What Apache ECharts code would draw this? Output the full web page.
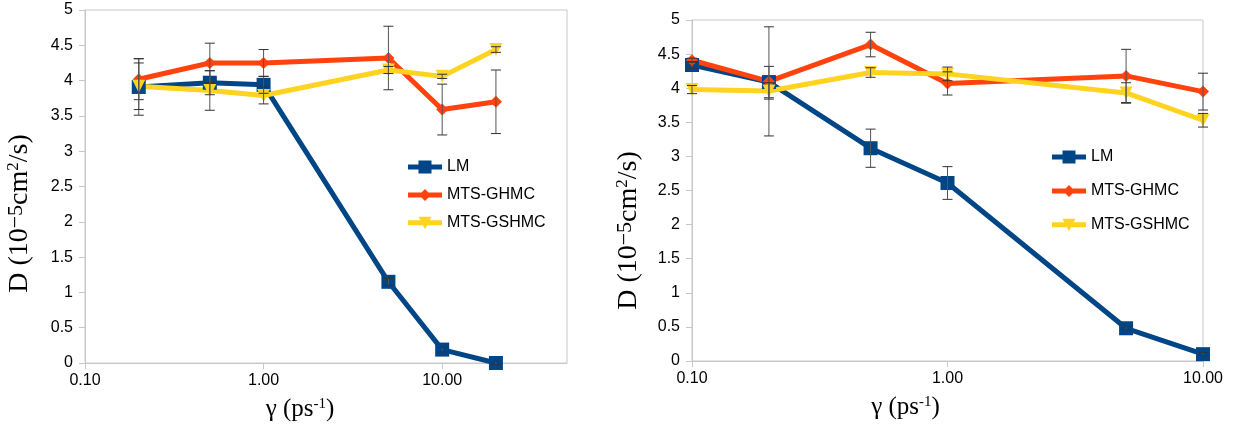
<!DOCTYPE html>
<html>
<head>
<meta charset="utf-8">
<script src="https://cdn.jsdelivr.net/npm/echarts@6/dist/echarts.min.js"></script>
<style>
html, body { margin: 0; padding: 0; background: #fff; }
#chart { width: 1234px; height: 430px; }
</style>
</head>
<body>
<div id="chart"></div>
<script>
// left panel
var leftGamma = [0.2, 0.5, 1, 5, 10, 20]
var leftLM = [3.91, 3.97, 3.94, 1.15, 0.19, 0.0]
var leftLMErr = [0.40, 0.17, 0.12, 0.05, 0.03, 0.02]
var leftGHMC = [4.02, 4.25, 4.25, 4.32, 3.59, 3.70]
var leftGHMCErr = [0.29, 0.28, 0.19, 0.45, 0.36, 0.45]
var leftGSHMC = [3.92, 3.86, 3.79, 4.15, 4.06, 4.44]
var leftGSHMCErr = [0.33, 0.28, 0.12, 0.05, 0.03, 0.04]

// right panel
var rightGamma = [0.1, 0.2, 0.5, 1, 5, 10]
var rightLM = [4.34, 4.09, 3.12, 2.61, 0.48, 0.10]
var rightLMErr = [0.05, 0.23, 0.28, 0.24, 0.02, 0.02]
var rightGHMC = [4.41, 4.10, 4.64, 4.07, 4.18, 3.95]
var rightGHMCErr = [0.03, 0.80, 0.18, 0.17, 0.39, 0.27]
var rightGSHMC = [3.98, 3.96, 4.23, 4.21, 3.93, 3.53]
var rightGSHMCErr = [0.06, 0.12, 0.07, 0.10, 0.15, 0.10]

var seriesNames = ['LM', 'MTS-GHMC', 'MTS-GSHMC']
var colors = ['#004586', '#ff420e', '#ffd320']
var yMin = 0, yMax = 5, yStep = 0.5
var leftXMax = 50, rightXMax = 10, xMin = 0.1

var axisGray = '#c8c8c8'
var sans = 'Liberation Sans'
var serif = 'Liberation Serif'

// legend icons: thick line with the marker in the middle (34 x 13 box)
var bar = 'M0,4h34v5h-34z '
var legendIcons = [
	'path://' + bar + 'M10.5,0h13v13h-13z',
	'path://' + bar + 'M17,0.5L23,6.5L17,12.5L11,6.5z',
	'path://' + bar + 'M10.5,0.5L23.5,0.5L17,13z',
]

function lineSeries(idx, name, xs, ys, color, symbol, size, rotate) {
	return {
		type: 'line',
		name: name,
		xAxisIndex: idx,
		yAxisIndex: idx,
		data: xs.map(function (x, i) { return [x, ys[i]] }),
		color: color,
		lineStyle: { width: 5, color: color },
		itemStyle: { color: color },
		symbol: symbol,
		symbolSize: size,
		symbolRotate: rotate || 0,
		showSymbol: true,
		z: 2,
	}
}

function drawErrorBar(params, api) {
	var x = api.value(0)
	var top = api.coord([x, api.value(2)])
	var bottom = api.coord([x, api.value(1)])
	var half = 5
	var style = { stroke: '#333', lineWidth: 1 }
	return {
		type: 'group',
		children: [
			{ type: 'line', shape: { x1: top[0], y1: top[1], x2: bottom[0], y2: bottom[1] }, style: { stroke: '#555', lineWidth: 1 } },
			{ type: 'line', shape: { x1: top[0] - half, y1: top[1], x2: top[0] + half, y2: top[1] }, style: style },
			{ type: 'line', shape: { x1: bottom[0] - half, y1: bottom[1], x2: bottom[0] + half, y2: bottom[1] }, style: style },
		],
	}
}

function errSeries(idx, xs, ys, errs) {
	return {
		type: 'custom',
		xAxisIndex: idx,
		yAxisIndex: idx,
		renderItem: drawErrorBar,
		data: xs.map(function (x, i) { return [x, ys[i] - errs[i], ys[i] + errs[i]] }),
		encode: { x: 0, y: [1, 2] },
		clip: false,
		silent: true,
		z: 5,
	}
}

function xAxis(idx, max, showMax, namePad) {
	return {
		gridIndex: idx,
		type: 'log',
		logBase: 10,
		min: xMin,
		max: max,
		name: '\u03b3 (ps{sup|-1})',
		nameLocation: 'middle',
		nameGap: 34,
		nameTextStyle: {
			fontFamily: serif, fontSize: 25, color: '#000', padding: [0, namePad, 0, 0],
			rich: { sup: { fontFamily: serif, fontSize: 15, color: '#000', verticalAlign: 'top', padding: [0, 0, 10, 0] } },
		},
		axisLine: { lineStyle: { color: axisGray, width: 1 } },
		axisTick: { length: 6, lineStyle: { color: axisGray } },
		axisLabel: {
			fontFamily: sans, fontSize: 16, color: '#000', margin: 10,
			showMaxLabel: showMax,
			formatter: function (v) { return Number(v).toFixed(2) },
		},
		splitLine: { show: false },
	}
}

function yAxis(idx, gap, pad) {
	return {
		gridIndex: idx,
		type: 'value',
		min: yMin,
		max: yMax,
		interval: yStep,
		name: 'D (10{sup|\u22125}cm{sup2|2}/s)',
		nameLocation: 'middle',
		nameRotate: 90,
		nameGap: gap,
		nameTextStyle: {
			fontFamily: serif, fontSize: 28, color: '#000', padding: [0, pad, 0, 0],
			rich: {
				sup: { fontFamily: serif, fontSize: 22, color: '#000', verticalAlign: 'top', padding: [0, 0, 8, 0] },
				sup2: { fontFamily: serif, fontSize: 17, color: '#000', verticalAlign: 'top', padding: [0, 0, 10, 0] },
			},
		},
		axisLine: { show: true, lineStyle: { color: axisGray, width: 1 } },
		axisTick: { show: true, length: 6, lineStyle: { color: axisGray } },
		axisLabel: { fontFamily: sans, fontSize: 16, color: '#000', margin: 12 },
		splitLine: { show: false },
	}
}

function legend(left, top, gap) {
	return {
		orient: 'vertical',
		left: left,
		top: top,
		itemWidth: 34,
		itemHeight: 13,
		itemGap: gap,
		selectedMode: false,
		textStyle: { fontFamily: sans, fontSize: 16, color: '#000' },
		data: seriesNames.map(function (n, i) { return { name: n, icon: legendIcons[i] } }),
	}
}

var chart = echarts.init(document.getElementById('chart'), null, { renderer: 'canvas' })

chart.setOption({
	backgroundColor: '#fff',
	animation: false,
	grid: [
		{ left: 85, top: 10, width: 482, height: 353, show: true, borderColor: axisGray, borderWidth: 1 },
		{ left: 692, top: 20, width: 511, height: 341, show: true, borderColor: axisGray, borderWidth: 1 },
	],
	legend: [legend(403, 154, 12), legend(1047, 144, 18)],
	xAxis: [xAxis(0, leftXMax, false, 52), xAxis(1, rightXMax, true, 84)],
	yAxis: [yAxis(0, 50, 54), yAxis(1, 48, 80)],
	series: [
		lineSeries(0, seriesNames[0], leftGamma, leftLM, colors[0], 'rect', 14),
		lineSeries(0, seriesNames[1], leftGamma, leftGHMC, colors[1], 'diamond', 12),
		lineSeries(0, seriesNames[2], leftGamma, leftGSHMC, colors[2], 'triangle', 13, 180),
		errSeries(0, leftGamma, leftLM, leftLMErr),
		errSeries(0, leftGamma, leftGHMC, leftGHMCErr),
		errSeries(0, leftGamma, leftGSHMC, leftGSHMCErr),
		lineSeries(1, seriesNames[0], rightGamma, rightLM, colors[0], 'rect', 14),
		lineSeries(1, seriesNames[1], rightGamma, rightGHMC, colors[1], 'diamond', 12),
		lineSeries(1, seriesNames[2], rightGamma, rightGSHMC, colors[2], 'triangle', 13, 180),
		errSeries(1, rightGamma, rightLM, rightLMErr),
		errSeries(1, rightGamma, rightGHMC, rightGHMCErr),
		errSeries(1, rightGamma, rightGSHMC, rightGSHMCErr),
	],
})
</script>
</body>
</html>
